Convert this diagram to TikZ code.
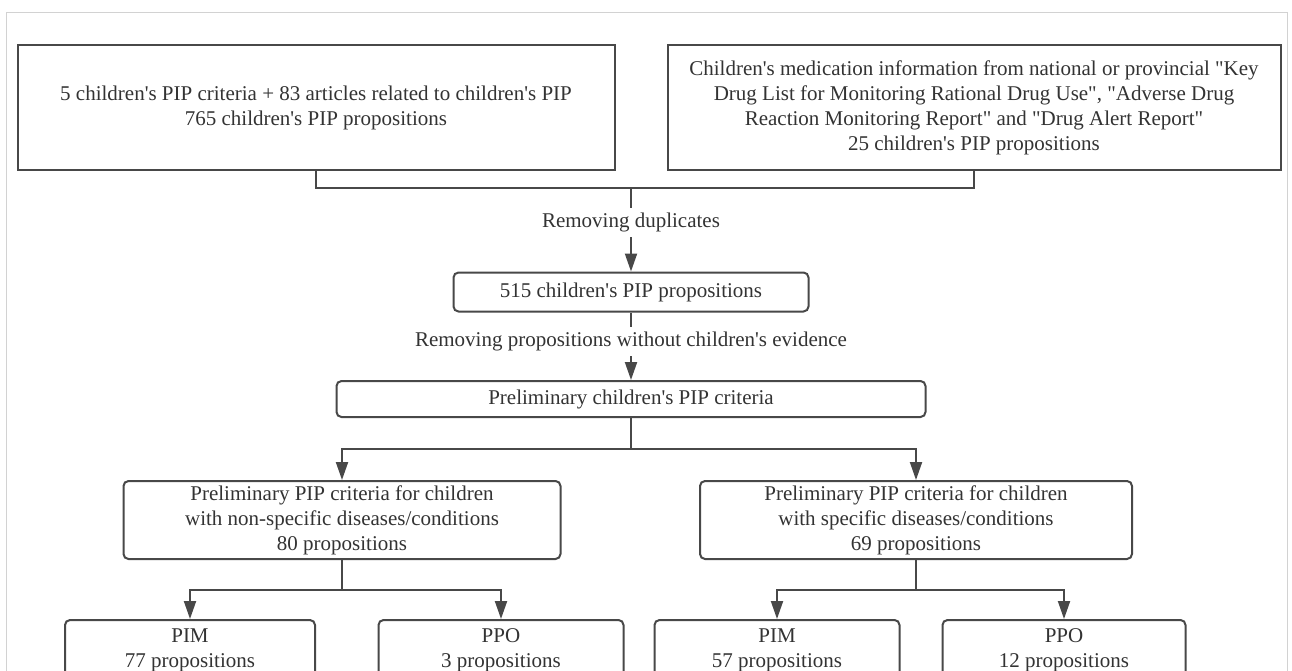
\documentclass[tikz,border=0pt]{standalone}
\usepackage{fontspec}
\setmainfont{Liberation Serif}[Ligatures=TeXOff]
\usepackage{xcolor}
\usetikzlibrary{arrows.meta}
\definecolor{linegray}{HTML}{484848}
\definecolor{textgray}{HTML}{333333}
\definecolor{framegray}{HTML}{D2D2D2}

\begin{document}
\begin{tikzpicture}[x=1pt, y=-1pt,
	box/.style={draw=linegray, line width=2pt, align=center, text=textgray, font=\fontsize{21}{25}\selectfont, inner sep=0pt},
	rbox/.style={box, rounded corners=5pt},
	link/.style={draw=linegray, line width=2pt},
	arr/.style={link, -{Triangle[length=18pt, width=12pt]}},
	lbl/.style={fill=white, text=textgray, font=\fontsize{21}{25}\selectfont, inner xsep=4pt, inner ysep=5pt}]

	\useasboundingbox (0,0) rectangle (1292,671);
	\clip (0,0) rectangle (1292,671);
	\fill[white] (0,0) rectangle (1292,671);
	\draw[framegray, line width=1pt] (6.5,12.5) rectangle (1287.5,720);

	% sources
	\node[box, minimum width=597pt, minimum height=125pt] (lit) at (316,108)
		{5 children's PIP criteria + 83 articles related to children's PIP\\765 children's PIP propositions};
	\node[box, minimum width=613pt, minimum height=125pt] (rep) at (974,108)
		{Children's medication information from national or provincial "Key\\Drug List for Monitoring Rational Drug Use", "Adverse Drug\\Reaction Monitoring Report" and "Drug Alert Report"\\25 children's PIP propositions};

	% screening
	\node[rbox, minimum width=355pt, minimum height=39pt] (pool) at (631,292) {515 children's PIP propositions};
	\node[rbox, minimum width=589pt, minimum height=36pt] (crit) at (631,399) {Preliminary children's PIP criteria};

	% groups
	\node[rbox, minimum width=437pt, minimum height=78pt] (nonspec) at (342,520)
		{Preliminary PIP criteria for children\\with non-specific diseases/conditions\\80 propositions};
	\node[rbox, minimum width=432pt, minimum height=78pt] (spec) at (916,520)
		{Preliminary PIP criteria for children\\with specific diseases/conditions\\69 propositions};

	\node[rbox, minimum width=250pt, minimum height=60pt] (pimA) at (190,650) {PIM\\77 propositions};
	\node[rbox, minimum width=245pt, minimum height=60pt] (ppoA) at (501,650) {PPO\\3 propositions};
	\node[rbox, minimum width=245pt, minimum height=60pt] (pimB) at (777,650) {PIM\\57 propositions};
	\node[rbox, minimum width=243pt, minimum height=60pt] (ppoB) at (1064,650) {PPO\\12 propositions};

	\coordinate (join) at (631,188);
	\coordinate (fork) at (631,449);
	\coordinate (forkA) at (342,590);
	\coordinate (forkB) at (916,590);

	\draw[link] (lit.south) |- (join) -| (rep.south);
	\draw[arr] (join) -- node[lbl, pos=0.41] {Removing duplicates} (pool);
	\draw[arr] (pool) -- node[lbl, pos=0.43] {Removing propositions without children's evidence} (crit);

	\draw[link] (crit) -- (fork);
	\draw[arr] (fork) -| (nonspec);
	\draw[arr] (fork) -| (spec);

	\draw[link] (nonspec) -- (forkA);
	\draw[arr] (forkA) -| (pimA);
	\draw[arr] (forkA) -| (ppoA);
	\draw[link] (spec) -- (forkB);
	\draw[arr] (forkB) -| (pimB);
	\draw[arr] (forkB) -| (ppoB);
\end{tikzpicture}
\end{document}
